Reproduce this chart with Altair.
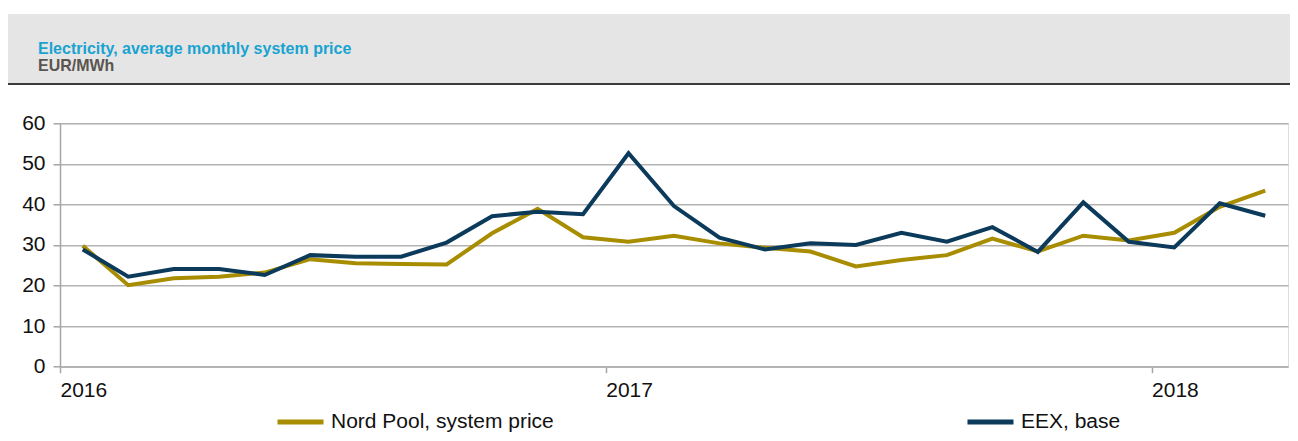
import altair as alt
import pandas as pd

# month index (0 = Jan 2016), plotted at mid-month
months = list(range(27))
nord_pool = [29.8, 20.1, 21.8, 22.2, 23.2, 26.5, 25.5, 25.3, 25.2, 32.9, 38.9, 31.9,
             30.8, 32.3, 30.4, 29.3, 28.4, 24.7, 26.3, 27.5, 31.6, 28.4, 32.3, 31.1,
             33.0, 39.4, 43.4]
eex_base = [28.9, 22.2, 24.1, 24.1, 22.6, 27.5, 27.1, 27.1, 30.6, 37.1, 38.2, 37.6,
            52.6, 39.6, 31.8, 28.9, 30.4, 30.0, 33.0, 30.8, 34.4, 28.3, 40.5, 30.8,
            29.4, 40.3, 37.2]
series_names = ["Nord Pool, system price", "EEX, base"]
series_colors = ["#A88D00", "#0B3A5B"]
year_ticks = [0, 12, 24]
y_ticks = [0, 10, 20, 30, 40, 50, 60]
title_text = "Electricity, average monthly system price"
unit_text = "EUR/MWh"

rows = []
for m, a, b in zip(months, nord_pool, eex_base):
    rows.append({"month": m + 0.5, "series": series_names[0], "value": a})
    rows.append({"month": m + 0.5, "series": series_names[1], "value": b})
df = pd.DataFrame(rows)

FONT = "Liberation Sans"

x_enc = alt.X("month:Q",
              scale=alt.Scale(domain=[0, 27], nice=False, zero=False),
              axis=alt.Axis(values=year_ticks, labelExpr="2016 + datum.value / 12",
                            title=None, grid=False, domainColor="#b3b3b3", domainWidth=1.5,
                            tickColor="#a6a6a6", tickWidth=1.5, tickSize=6,
                            labelAlign="left", labelFontSize=21, labelPadding=7,
                            labelColor="#111111", labelFont=FONT))
y_enc = alt.Y("value:Q",
              scale=alt.Scale(domain=[0, 60], nice=False),
              axis=alt.Axis(values=y_ticks, title=None, grid=True, gridColor="#b3b3b3",
                            gridWidth=1.5, domainColor="#a6a6a6", domainWidth=1.5,
                            tickColor="#a6a6a6", tickWidth=1.5, tickSize=7,
                            labelFontSize=21, labelPadding=8, labelColor="#111111",
                            labelFont=FONT))
color_enc = alt.Color("series:N",
                      scale=alt.Scale(domain=series_names, range=series_colors),
                      legend=alt.Legend(orient="none", legendX=215, legendY=273,
                                        direction="horizontal", columns=2,
                                        columnPadding=403, title=None,
                                        symbolType="stroke", symbolSize=2116,
                                        symbolStrokeWidth=5, labelFontSize=21,
                                        labelFont=FONT, labelColor="#111111",
                                        labelOffset=5, labelLimit=400, padding=0))

line_nord = alt.Chart(df).transform_filter(
    alt.datum.series == series_names[0]
).mark_line(strokeWidth=4).encode(x=x_enc, y=y_enc, color=color_enc)
line_eex = alt.Chart(df).transform_filter(
    alt.datum.series == series_names[1]
).mark_line(strokeWidth=4).encode(x=x_enc, y=y_enc, color=color_enc)

deco = alt.Data(values=[{}])
band = alt.Chart(deco).mark_rect(color="#e5e5e5").encode(
    x=alt.value(-52), x2=alt.value(1230), y=alt.value(-109.3), y2=alt.value(-39.3))
band_line = alt.Chart(deco).mark_rule(color="#3a3a3a", strokeWidth=2).encode(
    x=alt.value(-52), x2=alt.value(1230), y=alt.value(-39.3))
title1 = alt.Chart(deco).mark_text(
    text=title_text, align="left", baseline="alphabetic", font=FONT,
    fontSize=16, fontWeight="bold", color="#19A3D1").encode(
    x=alt.value(-22), y=alt.value(-69.3))
title2 = alt.Chart(deco).mark_text(
    text=unit_text, align="left", baseline="alphabetic", font=FONT,
    fontSize=16, fontWeight="bold", color="#5a5550").encode(
    x=alt.value(-22), y=alt.value(-52.3))

chart = alt.layer(band, band_line, title1, title2, line_nord, line_eex).properties(
    width=1228, height=243.4,
    autosize=alt.AutoSizeParams(type="none"),
    padding={"left": 52, "top": 115.3, "right": 2, "bottom": 74},
).configure_view(strokeWidth=0).configure(background="white")

chart.save("out.html", embed_options={"renderer": "svg", "actions": False})
